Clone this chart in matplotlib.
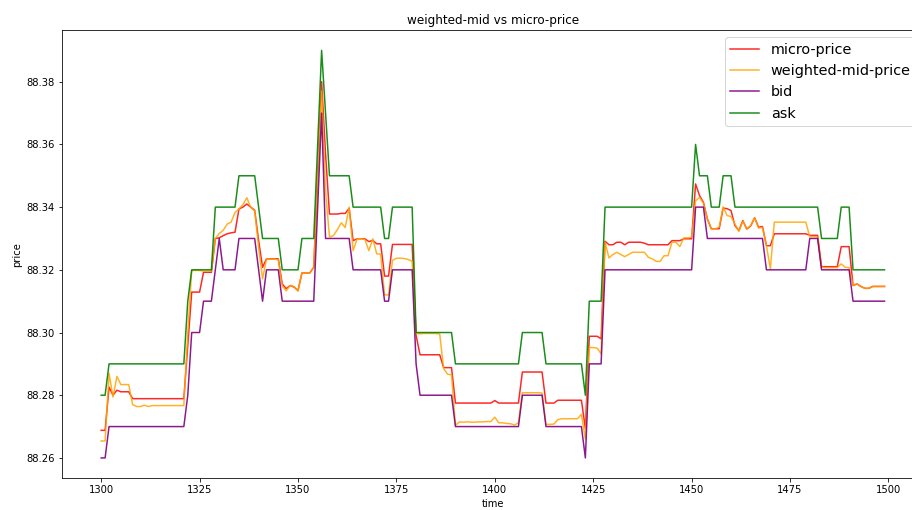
import numpy as np
import matplotlib
matplotlib.use("Agg")
import matplotlib.pyplot as plt

# time index of the snapshot (one tick per row, 1300..1499)
start_time = 1300

# best ask (price steps of 0.01)
ask = [
    88.28, 88.28, 88.29, 88.29, 88.29, 88.29, 88.29, 88.29, 88.29, 88.29,  # 1300
    88.29, 88.29, 88.29, 88.29, 88.29, 88.29, 88.29, 88.29, 88.29, 88.29,  # 1310
    88.29, 88.29, 88.31, 88.32, 88.32, 88.32, 88.32, 88.32, 88.32, 88.34,  # 1320
    88.34, 88.34, 88.34, 88.34, 88.34, 88.35, 88.35, 88.35, 88.35, 88.35,  # 1330
    88.34, 88.33, 88.33, 88.33, 88.33, 88.33, 88.32, 88.32, 88.32, 88.32,  # 1340
    88.32, 88.33, 88.33, 88.33, 88.33, 88.36, 88.39, 88.37, 88.35, 88.35,  # 1350
    88.35, 88.35, 88.35, 88.35, 88.34, 88.34, 88.34, 88.34, 88.34, 88.34,  # 1360
    88.34, 88.34, 88.33, 88.33, 88.34, 88.34, 88.34, 88.34, 88.34, 88.34,  # 1370
    88.30, 88.30, 88.30, 88.30, 88.30, 88.30, 88.30, 88.30, 88.30, 88.30,  # 1380
    88.29, 88.29, 88.29, 88.29, 88.29, 88.29, 88.29, 88.29, 88.29, 88.29,  # 1390
    88.29, 88.29, 88.29, 88.29, 88.29, 88.29, 88.29, 88.30, 88.30, 88.30,  # 1400
    88.30, 88.30, 88.30, 88.29, 88.29, 88.29, 88.29, 88.29, 88.29, 88.29,  # 1410
    88.29, 88.29, 88.29, 88.28, 88.31, 88.31, 88.31, 88.31, 88.34, 88.34,  # 1420
    88.34, 88.34, 88.34, 88.34, 88.34, 88.34, 88.34, 88.34, 88.34, 88.34,  # 1430
    88.34, 88.34, 88.34, 88.34, 88.34, 88.34, 88.34, 88.34, 88.34, 88.34,  # 1440
    88.34, 88.36, 88.35, 88.35, 88.35, 88.34, 88.34, 88.34, 88.35, 88.35,  # 1450
    88.35, 88.34, 88.34, 88.34, 88.34, 88.34, 88.34, 88.34, 88.34, 88.34,  # 1460
    88.34, 88.34, 88.34, 88.34, 88.34, 88.34, 88.34, 88.34, 88.34, 88.34,  # 1470
    88.34, 88.34, 88.34, 88.33, 88.33, 88.33, 88.33, 88.33, 88.34, 88.34,  # 1480
    88.34, 88.32, 88.32, 88.32, 88.32, 88.32, 88.32, 88.32, 88.32, 88.32,  # 1490
]

# best bid
bid = [
    88.26, 88.26, 88.27, 88.27, 88.27, 88.27, 88.27, 88.27, 88.27, 88.27,  # 1300
    88.27, 88.27, 88.27, 88.27, 88.27, 88.27, 88.27, 88.27, 88.27, 88.27,  # 1310
    88.27, 88.27, 88.28, 88.30, 88.30, 88.30, 88.31, 88.31, 88.31, 88.32,  # 1320
    88.33, 88.32, 88.32, 88.32, 88.32, 88.33, 88.33, 88.33, 88.33, 88.33,  # 1330
    88.32, 88.31, 88.32, 88.32, 88.32, 88.32, 88.31, 88.31, 88.31, 88.31,  # 1340
    88.31, 88.31, 88.31, 88.31, 88.31, 88.34, 88.37, 88.33, 88.33, 88.33,  # 1350
    88.33, 88.33, 88.33, 88.33, 88.32, 88.32, 88.32, 88.32, 88.32, 88.32,  # 1360
    88.32, 88.32, 88.31, 88.31, 88.32, 88.32, 88.32, 88.32, 88.32, 88.32,  # 1370
    88.29, 88.28, 88.28, 88.28, 88.28, 88.28, 88.28, 88.28, 88.28, 88.28,  # 1380
    88.27, 88.27, 88.27, 88.27, 88.27, 88.27, 88.27, 88.27, 88.27, 88.27,  # 1390
    88.27, 88.27, 88.27, 88.27, 88.27, 88.27, 88.27, 88.28, 88.28, 88.28,  # 1400
    88.28, 88.28, 88.28, 88.27, 88.27, 88.27, 88.27, 88.27, 88.27, 88.27,  # 1410
    88.27, 88.27, 88.27, 88.26, 88.29, 88.29, 88.29, 88.29, 88.32, 88.32,  # 1420
    88.32, 88.32, 88.32, 88.32, 88.32, 88.32, 88.32, 88.32, 88.32, 88.32,  # 1430
    88.32, 88.32, 88.32, 88.32, 88.32, 88.32, 88.32, 88.32, 88.32, 88.32,  # 1440
    88.32, 88.34, 88.34, 88.34, 88.33, 88.33, 88.33, 88.33, 88.33, 88.33,  # 1450
    88.33, 88.33, 88.33, 88.33, 88.33, 88.33, 88.33, 88.33, 88.33, 88.32,  # 1460
    88.32, 88.32, 88.32, 88.32, 88.32, 88.32, 88.32, 88.32, 88.32, 88.32,  # 1470
    88.33, 88.33, 88.33, 88.32, 88.32, 88.32, 88.32, 88.32, 88.32, 88.32,  # 1480
    88.32, 88.31, 88.31, 88.31, 88.31, 88.31, 88.31, 88.31, 88.31, 88.31,  # 1490
]

# micro-price estimate
micro_price = [
    88.2688, 88.2688, 88.2826, 88.2800, 88.2816, 88.2811, 88.2811, 88.2811, 88.2789, 88.2789,  # 1300
    88.2789, 88.2789, 88.2789, 88.2789, 88.2789, 88.2789, 88.2789, 88.2789, 88.2789, 88.2789,  # 1310
    88.2789, 88.2789, 88.2960, 88.3129, 88.3129, 88.3129, 88.3192, 88.3192, 88.3192, 88.3300,  # 1320
    88.3302, 88.3309, 88.3315, 88.3318, 88.3320, 88.3394, 88.3400, 88.3410, 88.3400, 88.3390,  # 1330
    88.3293, 88.3208, 88.3235, 88.3235, 88.3235, 88.3235, 88.3155, 88.3140, 88.3150, 88.3145,  # 1340
    88.3134, 88.3190, 88.3190, 88.3190, 88.3208, 88.3500, 88.3800, 88.3570, 88.3378, 88.3378,  # 1350
    88.3378, 88.3380, 88.3380, 88.3396, 88.3293, 88.3299, 88.3299, 88.3299, 88.3290, 88.3294,  # 1360
    88.3283, 88.3283, 88.3180, 88.3180, 88.3281, 88.3281, 88.3281, 88.3281, 88.3281, 88.3281,  # 1370
    88.2991, 88.2929, 88.2929, 88.2929, 88.2929, 88.2929, 88.2929, 88.2888, 88.2888, 88.2888,  # 1380
    88.2775, 88.2775, 88.2775, 88.2775, 88.2775, 88.2775, 88.2775, 88.2775, 88.2775, 88.2775,  # 1390
    88.2783, 88.2775, 88.2775, 88.2775, 88.2775, 88.2775, 88.2775, 88.2874, 88.2874, 88.2874,  # 1400
    88.2874, 88.2874, 88.2874, 88.2775, 88.2775, 88.2775, 88.2784, 88.2784, 88.2784, 88.2784,  # 1410
    88.2784, 88.2784, 88.2784, 88.2694, 88.2988, 88.2988, 88.2988, 88.2980, 88.3291, 88.3280,  # 1420
    88.3280, 88.3288, 88.3288, 88.3280, 88.3288, 88.3288, 88.3288, 88.3288, 88.3285, 88.3280,  # 1430
    88.3280, 88.3280, 88.3280, 88.3280, 88.3280, 88.3293, 88.3293, 88.3293, 88.3299, 88.3299,  # 1440
    88.3299, 88.3474, 88.3437, 88.3415, 88.3362, 88.3331, 88.3331, 88.3331, 88.3397, 88.3395,  # 1450
    88.3389, 88.3341, 88.3325, 88.3357, 88.3330, 88.3340, 88.3366, 88.3336, 88.3338, 88.3277,  # 1460
    88.3277, 88.3315, 88.3315, 88.3315, 88.3315, 88.3315, 88.3315, 88.3315, 88.3315, 88.3315,  # 1470
    88.3310, 88.3310, 88.3310, 88.3210, 88.3210, 88.3210, 88.3210, 88.3210, 88.3274, 88.3274,  # 1480
    88.3274, 88.3150, 88.3155, 88.3147, 88.3141, 88.3141, 88.3147, 88.3147, 88.3147, 88.3147,  # 1490
]

# volume weighted mid price
weighted_mid = [
    88.2654, 88.2654, 88.2870, 88.2794, 88.2860, 88.2834, 88.2834, 88.2834, 88.2770, 88.2764,  # 1300
    88.2764, 88.2768, 88.2764, 88.2767, 88.2767, 88.2767, 88.2767, 88.2767, 88.2767, 88.2767,  # 1310
    88.2767, 88.2767, 88.3000, 88.3198, 88.3198, 88.3198, 88.3196, 88.3196, 88.3196, 88.3300,  # 1320
    88.3316, 88.3326, 88.3346, 88.3352, 88.3383, 88.3394, 88.3408, 88.3430, 88.3399, 88.3388,  # 1330
    88.3272, 88.3171, 88.3235, 88.3234, 88.3234, 88.3232, 88.3148, 88.3133, 88.3150, 88.3147,  # 1340
    88.3132, 88.3190, 88.3190, 88.3190, 88.3208, 88.3500, 88.3770, 88.3450, 88.3305, 88.3309,  # 1350
    88.3328, 88.3350, 88.3335, 88.3400, 88.3261, 88.3299, 88.3299, 88.3297, 88.3261, 88.3299,  # 1360
    88.3251, 88.3250, 88.3120, 88.3120, 88.3230, 88.3237, 88.3237, 88.3236, 88.3233, 88.3227,  # 1370
    88.2996, 88.2996, 88.2997, 88.2997, 88.2997, 88.2997, 88.2995, 88.2885, 88.2867, 88.2865,  # 1380
    88.2704, 88.2715, 88.2714, 88.2715, 88.2714, 88.2714, 88.2715, 88.2715, 88.2716, 88.2716,  # 1390
    88.2730, 88.2712, 88.2712, 88.2710, 88.2709, 88.2705, 88.2712, 88.2808, 88.2808, 88.2808,  # 1400
    88.2808, 88.2808, 88.2807, 88.2707, 88.2707, 88.2708, 88.2722, 88.2725, 88.2725, 88.2725,  # 1410
    88.2725, 88.2725, 88.2739, 88.2660, 88.2952, 88.2952, 88.2950, 88.2932, 88.3288, 88.3238,  # 1420
    88.3249, 88.3256, 88.3249, 88.3242, 88.3249, 88.3256, 88.3256, 88.3256, 88.3256, 88.3240,  # 1430
    88.3235, 88.3227, 88.3227, 88.3245, 88.3245, 88.3288, 88.3288, 88.3274, 88.3302, 88.3302,  # 1440
    88.3304, 88.3420, 88.3431, 88.3412, 88.3362, 88.3331, 88.3331, 88.3336, 88.3401, 88.3373,  # 1450
    88.3370, 88.3346, 88.3323, 88.3355, 88.3331, 88.3341, 88.3366, 88.3333, 88.3335, 88.3277,  # 1460
    88.3203, 88.3352, 88.3352, 88.3352, 88.3352, 88.3352, 88.3352, 88.3352, 88.3352, 88.3352,  # 1470
    88.3306, 88.3306, 88.3305, 88.3208, 88.3207, 88.3207, 88.3207, 88.3207, 88.3219, 88.3208,  # 1480
    88.3207, 88.3150, 88.3155, 88.3147, 88.3141, 88.3141, 88.3147, 88.3147, 88.3147, 88.3147,  # 1490
]

time = np.arange(start_time, start_time + len(ask))

# notebook-style figure at 72 dpi, axes run off the right edge like the original crop
fig = plt.figure(figsize=(912 / 72, 510 / 72), dpi=72)
ax = fig.add_axes([62 / 912, 31.7 / 510, 861.7 / 912, 448.3 / 510])

ax.plot(time, micro_price, color="red", alpha=0.85, label="micro-price")
ax.plot(time, weighted_mid, color="orange", alpha=0.85, label="weighted-mid-price")
ax.plot(time, bid, color="purple", alpha=0.9, label="bid")
ax.plot(time, ask, color="green", alpha=0.9, label="ask")

ax.set_title("weighted-mid vs micro-price")
ax.set_xlabel("time")
ax.set_ylabel("price")
ax.legend(loc="upper right", fontsize="x-large")

fig.savefig("out.png", dpi=72)
